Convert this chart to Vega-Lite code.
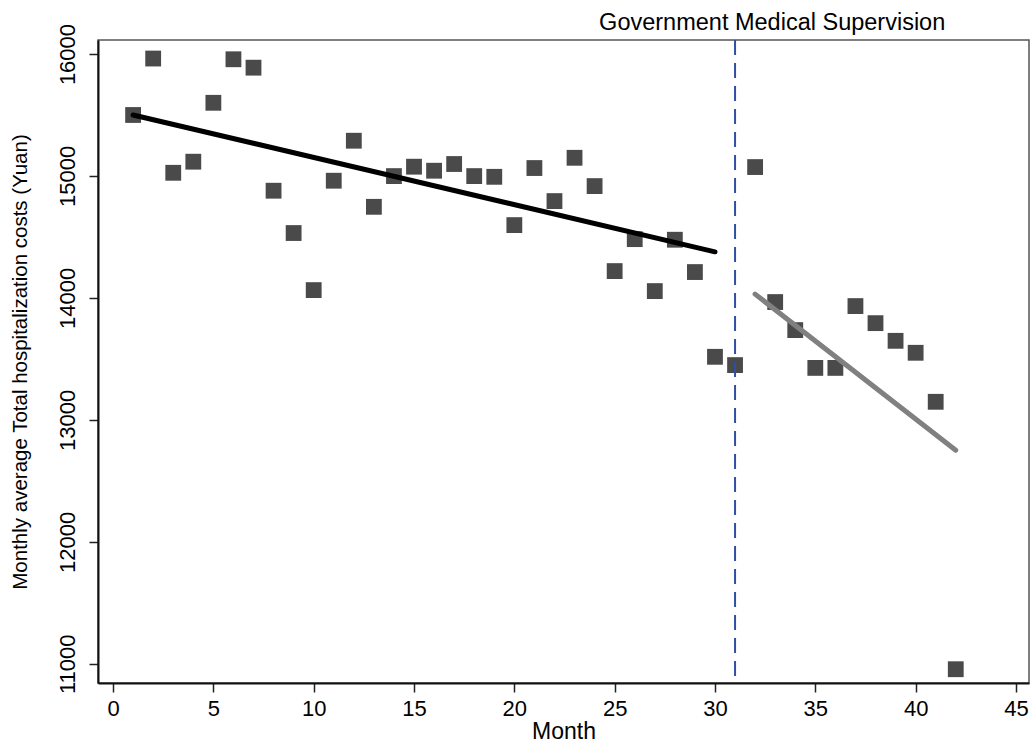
{
  "$schema": "https://vega.github.io/schema/vega-lite/v6.json",
  "width": 931,
  "height": 643,
  "autosize": "none",
  "padding": {"left": 98, "top": 40, "right": 1, "bottom": 59},
  "background": "white",
  "config": {
    "font": "Liberation Sans",
    "view": {"stroke": "#555555", "strokeWidth": 1.5},
    "axis": {"grid": false, "domainColor": "#111111", "domainWidth": 2, "tickColor": "#222222", "tickWidth": 1.5, "tickSize": 9, "labelFont": "Liberation Sans", "titleFont": "Liberation Sans", "labelColor": "#000000", "titleColor": "#000000", "labelFontSize": 22, "titleFontWeight": "normal"}
  },
  "datasets": {
    "pts": [
      {"month": 1, "cost": 15500}, {"month": 2, "cost": 15963}, {"month": 3, "cost": 15026}, {"month": 4, "cost": 15117},
      {"month": 5, "cost": 15600}, {"month": 6, "cost": 15957}, {"month": 7, "cost": 15888}, {"month": 8, "cost": 14879},
      {"month": 9, "cost": 14532}, {"month": 10, "cost": 14064}, {"month": 11, "cost": 14961}, {"month": 12, "cost": 15289},
      {"month": 13, "cost": 14747}, {"month": 14, "cost": 14999}, {"month": 15, "cost": 15076}, {"month": 16, "cost": 15043},
      {"month": 17, "cost": 15098}, {"month": 18, "cost": 14999}, {"month": 19, "cost": 14993}, {"month": 20, "cost": 14597},
      {"month": 21, "cost": 15065}, {"month": 22, "cost": 14794}, {"month": 23, "cost": 15149}, {"month": 24, "cost": 14917},
      {"month": 25, "cost": 14220}, {"month": 26, "cost": 14482}, {"month": 27, "cost": 14056}, {"month": 28, "cost": 14477},
      {"month": 29, "cost": 14212}, {"month": 30, "cost": 13517}, {"month": 31, "cost": 13449}, {"month": 32, "cost": 15073},
      {"month": 33, "cost": 13966}, {"month": 34, "cost": 13736}, {"month": 35, "cost": 13426}, {"month": 36, "cost": 13426},
      {"month": 37, "cost": 13933}, {"month": 38, "cost": 13793}, {"month": 39, "cost": 13648}, {"month": 40, "cost": 13550},
      {"month": 41, "cost": 13148}, {"month": 42, "cost": 10955}
    ],
    "fits": [
      {"month": 1, "cost": 15500, "segment": "pre"}, {"month": 30, "cost": 14378, "segment": "pre"},
      {"month": 32, "cost": 14031, "segment": "post"}, {"month": 42, "cost": 12751, "segment": "post"}
    ],
    "marker": [{"month": 31}],
    "note": [{"month": 32.85, "cost": 16197, "label": "Government Medical Supervision"}]
  },
  "layer": [
    {
      "data": {"name": "pts"},
      "mark": {"type": "point", "shape": "square", "filled": true, "size": 250, "color": "#4a4a4a", "opacity": 1},
      "encoding": {
        "x": {"field": "month", "type": "quantitative", "scale": {"domain": [-0.75, 45.65], "nice": false, "zero": false},
              "axis": {"title": "Month", "titleFontSize": 23, "values": [0, 5, 10, 15, 20, 25, 30, 35, 40, 45], "labelPadding": 6, "titlePadding": 1}},
        "y": {"field": "cost", "type": "quantitative", "scale": {"domain": [10842, 16115], "nice": false, "zero": false},
              "axis": {"title": "Monthly average Total hospitalization costs (Yuan)", "titleFontSize": 20.5, "format": "d", "values": [11000, 12000, 13000, 14000, 15000, 16000], "labelAngle": -90, "labelAlign": "center", "labelBaseline": "bottom", "labelPadding": 10, "titlePadding": 26}}
      }
    },
    {
      "data": {"name": "fits"},
      "mark": {"type": "line", "strokeWidth": 5, "strokeCap": "round"},
      "encoding": {
        "x": {"field": "month", "type": "quantitative"},
        "y": {"field": "cost", "type": "quantitative"},
        "detail": {"field": "segment"},
        "color": {"field": "segment", "type": "nominal", "scale": {"domain": ["pre", "post"], "range": ["#000000", "#808080"]}, "legend": null}
      }
    },
    {
      "data": {"name": "marker"},
      "mark": {"type": "rule", "color": "#2f4fa3", "strokeWidth": 2, "strokeDash": [15, 8]},
      "encoding": {"x": {"field": "month", "type": "quantitative"}}
    },
    {
      "data": {"name": "note"},
      "mark": {"type": "text", "align": "center", "baseline": "alphabetic", "fontSize": 23.5, "font": "Liberation Sans", "color": "#000000", "clip": false},
      "encoding": {
        "x": {"field": "month", "type": "quantitative"},
        "y": {"field": "cost", "type": "quantitative"},
        "text": {"field": "label"}
      }
    }
  ]
}
